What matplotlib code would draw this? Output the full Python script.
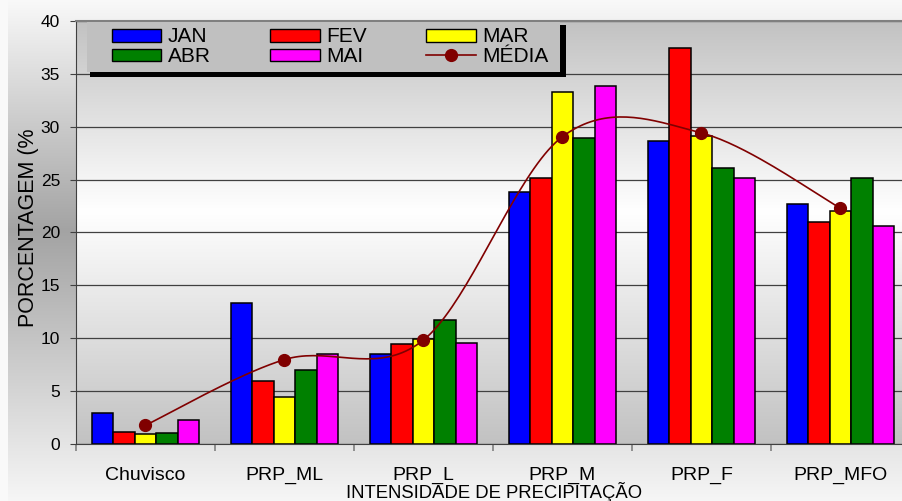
import numpy as np
import matplotlib
matplotlib.use('Agg')
import matplotlib.pyplot as plt
from matplotlib.patches import Rectangle, Patch
from matplotlib.lines import Line2D

# dados (%) por intensidade de precipitação
categorias = ['Chuvisco', 'PRP_ML', 'PRP_L', 'PRP_M', 'PRP_F', 'PRP_MFO']
jan = [3.0, 13.3, 8.5, 23.8, 28.6, 22.7]
fev = [1.2, 6.0, 9.45, 25.1, 37.4, 21.0]
mar = [1.0, 4.5, 9.9, 33.3, 29.1, 22.05]
abr = [1.05, 7.05, 11.7, 28.95, 26.1, 25.1]
mai = [2.25, 8.5, 9.55, 33.8, 25.1, 20.6]
media = [1.8, 8.0, 9.85, 29.05, 29.4, 22.3]

meses = ['JAN', 'FEV', 'MAR', 'ABR', 'MAI']
series = [jan, fev, mar, abr, mai]
cores = ['#0000ff', '#ff0000', '#ffff00', '#008000', '#ff00ff']
yticks = [0, 5, 10, 15, 20, 25, 30, 35, 40]

W, H = 903, 501
plt.rcParams['font.family'] = ['Liberation Sans', 'DejaVu Sans']


def px(x, y):
    # pixel (a partir do topo) -> fração da figura
    return x / W, 1 - y / H


def suaviza(x, y, n=40):
    # curva suave tipo planilha (bezier pelos pontos)
    pts = np.column_stack([np.asarray(x, float), np.asarray(y, float)])
    P = np.vstack([pts[0], pts, pts[-1]])
    out = []
    t = np.linspace(0, 1, n)[:, None]
    for i in range(len(pts) - 1):
        p0, p1, p2, p3 = P[i], P[i + 1], P[i + 2], P[i + 3]
        c1 = p1 + (p2 - p0) / 6
        c2 = p2 - (p3 - p1) / 6
        out.append((1 - t)**3 * p1 + 3 * (1 - t)**2 * t * c1 + 3 * (1 - t) * t**2 * c2 + t**3 * p2)
    return np.vstack(out)


fig = plt.figure(figsize=(W / 100, H / 100), dpi=100)

# fundo da figura: degradê vertical (escuro no meio)
yy = np.arange(H)
g = np.interp(yy, [0, 230, H - 1], [0.975, 0.64, 0.965])
bg = np.repeat(g[:, None], W, axis=1)
bg[:, :8] = 0.98
fig.figimage(np.dstack([bg, bg, bg]), 0, 0, zorder=-10)

x0, y_top, y_bot, x1 = 76, 20.7, 444.3, 910
ax = fig.add_axes([x0 / W, 1 - y_bot / H, (x1 - x0) / W, (y_bot - y_top) / H])
ax.patch.set_visible(False)

# fundo da área do gráfico
t = np.linspace(0, 1, 256)
v = np.interp(t, [0, 0.45, 1], [0.76, 1.0, 0.76])
ax.imshow(np.dstack([v, v, v]).reshape(256, 1, 3), extent=(-0.5, 5.5, 0, 40),
          aspect='auto', zorder=0, origin='upper')

x = np.arange(len(categorias))
bw = 0.154
for i, (nome, vals, c) in enumerate(zip(meses, series, cores)):
    ax.bar(x + (i - 2) * bw, vals, bw, color=c, edgecolor='black', linewidth=1.1, zorder=2)

curva = suaviza(x, media)
ax.plot(curva[:, 0], curva[:, 1], color='#800000', lw=1.2, zorder=3)
ax.plot(x, media, 'o', color='#800000', markersize=8.5, zorder=4)

ax.set_xlim(-0.5, 5.5)
ax.set_ylim(0, 40)
ax.set_yticks(yticks)
ax.set_xticks(x)
ax.set_xticklabels(categorias, fontsize=14)
ax.set_xticks(np.arange(-0.5, 6, 1), minor=True)
ax.tick_params(axis='x', which='major', length=0, pad=16)
ax.tick_params(axis='x', which='minor', length=5, color='#808080', width=1.2)
ax.tick_params(axis='y', length=4.5, pad=7, labelsize=12.5, color='#404040')
ax.grid(axis='y', color='#404040', lw=0.9)
ax.set_axisbelow(True)
for s in ['left', 'bottom']:
    ax.spines[s].set_color('#404040')
ax.spines['top'].set_color('#808080')
ax.spines['top'].set_linewidth(1.5)
ax.spines['right'].set_visible(False)

fig.text(29 / W, 1 - 228 / H, 'PORCENTAGEM (%', rotation=90, ha='center', va='center', fontsize=15.5)
fig.text(494.5 / W, 3 / H, 'INTENSIDADE DE PRECIPITAÇÃO', ha='center', va='baseline', fontsize=13.3)

# caixa da legenda com sombra preta
sx, sy = px(90, 77)
fig.add_artist(Rectangle((sx, sy), (566 - 90) / W, (77 - 25) / H, transform=fig.transFigure,
                         facecolor='black', edgecolor='none', zorder=3))
bx, by = px(86.7, 71.7)
fig.add_artist(Rectangle((bx, by), (560 - 86.7) / W, (71.7 - 21.5) / H, transform=fig.transFigure,
                         facecolor='#c0c0c0', edgecolor='none', zorder=4))

hs = {m: Patch(facecolor=c, edgecolor='black', linewidth=1) for m, c in zip(meses, cores)}
hm = Line2D([], [], color='#800000', lw=1.2, marker='o', markersize=8.5)
handles = [hs['JAN'], hs['ABR'], hs['FEV'], hs['MAI'], hs['MAR'], hm]
labels = ['JAN', 'ABR', 'FEV', 'MAI', 'MAR', 'MÉDIA']
fig.legend(handles, labels, ncol=3, loc='upper left', bbox_to_anchor=px(111.7, 27.5),
           frameon=False, borderpad=0, borderaxespad=0, fontsize=15, handlelength=2.38,
           handleheight=0.57, handletextpad=0.31, columnspacing=2.85,
           labelspacing=0.04).set_zorder(5)

fig.savefig('out.png', dpi=100)
